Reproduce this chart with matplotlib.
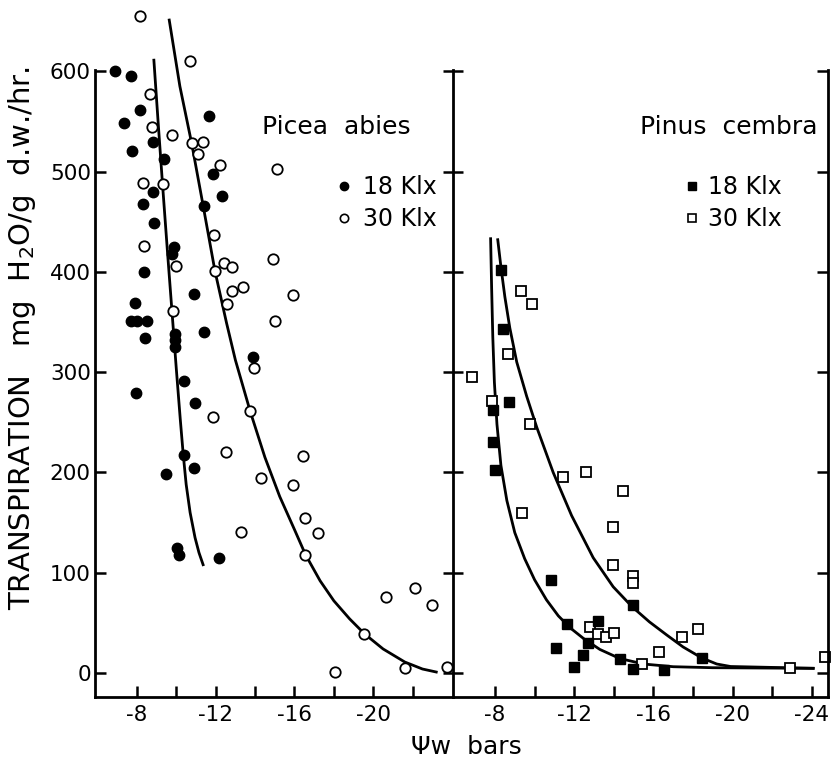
import matplotlib
matplotlib.use("Agg")
import matplotlib.pyplot as plt
from matplotlib.lines import Line2D

plt.rcParams['font.family'] = ['DejaVu Sans']

# ---------------- data (Picea abies, left panel) ----------------
picea18_x = [-6.9, -7.7, -8.15, -7.35, -11.65, -8.8, -7.75, -9.35, -11.85, -8.8,
             -8.3, -12.3, -11.4, -8.85, -9.9, -9.8, -8.35, -10.9, -7.9, -7.7,
             -8.0, -8.5, -8.4, -11.4, -9.95, -9.95, -9.95, -13.9, -7.95, -10.4,
             -10.95, -10.4, -9.5, -10.9, -10.05, -10.15, -12.15]
picea18_y = [600, 595, 561, 548, 555, 529, 520, 512, 498, 480,
             468, 476, 466, 449, 425, 418, 400, 378, 369, 351,
             351, 351, 334, 340, 338, 332, 325, 315, 279, 291,
             269, 217, 198, 204, 125, 118, 115]

picea30_x = [-8.15, -10.7, -8.65, -8.75, -9.8, -10.8, -11.35, -11.1, -12.2, -15.1,
             -8.3, -9.3, -11.9, -8.35, -10.0, -12.4, -12.85, -11.95, -14.9, -15.9,
             -12.85, -13.4, -12.55, -15.0, -9.85, -13.95, -13.75, -11.85, -12.5, -16.45,
             -14.3, -15.95, -16.55, -17.2, -13.3, -16.55, -19.55, -20.65, -22.1, -23.0,
             -18.05, -21.6, -23.75]
picea30_y = [655, 610, 577, 544, 536, 528, 529, 517, 506, 503,
             489, 488, 437, 426, 406, 409, 405, 401, 413, 377,
             381, 385, 368, 351, 361, 304, 261, 255, 220, 216,
             194, 187, 155, 140, 141, 118, 39, 76, 85, 68,
             1, 5, 6]

# fitted curves
picea18_fit_x = [-8.86, -9.08, -9.3, -9.55, -9.8, -10.0, -10.2, -10.35, -10.5, -10.7,
                 -10.95, -11.15, -11.36]
picea18_fit_y = [611, 548, 487, 420, 355, 303, 253, 218, 188, 160,
                 135, 120, 108]

picea30_fit_x = [-9.64, -10.18, -10.78, -11.37, -11.96, -12.55, -13.0, -13.75, -14.5,
                 -15.25, -16.0, -16.56, -17.3, -18.0, -18.8, -19.56, -20.5, -21.6,
                 -22.5, -23.2]
picea30_fit_y = [651, 585, 528, 465, 401, 349, 312, 261, 215,
                 176, 143, 118, 92, 72, 54, 39, 24, 11,
                 4, 1]

# ---------------- data (Pinus cembra, right panel) ----------------
pinus18_x = [-8.3, -8.4, -8.7, -7.9, -7.9, -8.0, -10.85, -11.65, -13.2, -12.7,
             -11.1, -12.45, -12.0, -14.3, -14.95, -16.55, -14.95, -18.45]
pinus18_y = [402, 343, 270, 262, 230, 202, 93, 49, 52, 30,
             25, 18, 6, 14, 4, 3, 68, 15]

pinus30_x = [-9.3, -9.85, -8.65, -6.85, -7.85, -9.75, -11.45, -12.6, -14.45, -9.35,
             -13.95, -13.95, -14.95, -14.95, -12.8, -13.2, -13.6, -14.0, -15.45, -16.3,
             -17.45, -18.25, -22.9, -24.65]
pinus30_y = [381, 368, 318, 295, 271, 248, 195, 200, 181, 160,
             146, 108, 97, 90, 46, 39, 36, 40, 9, 21,
             36, 44, 5, 16]

pinus18_fit_x = [-7.78, -7.83, -7.89, -7.97, -8.1, -8.3, -8.6, -9.0, -9.5, -10.0,
                 -10.6, -11.2, -11.8, -12.5, -13.3, -14.3, -15.5, -17.0, -19.0, -24.06]
pinus18_fit_y = [433, 385, 335, 290, 248, 207, 172, 140, 114, 93,
                 73, 57, 45, 34, 23.5, 14.5, 9, 6.3, 5.3, 4.7]

pinus30_fit_x = [-8.14, -8.3, -8.5, -8.75, -9.1, -9.6, -10.11, -10.94, -11.87, -12.96,
                 -13.97, -14.93, -15.8, -16.67, -17.5, -18.45, -19.2, -19.9, -22.9, -24.08]
pinus30_fit_y = [432, 405, 375, 344, 310, 276, 245, 200, 157, 115,
                 86, 66, 51, 38, 26, 15, 9, 6.5, 5.2, 4.7]

left_xticks = [-8, -10, -12, -14, -16, -18, -20, -22]
left_xticklabels = ['-8', '', '-12', '', '-16', '', '-20', '']
right_xticks = [-8, -10, -12, -14, -16, -18, -20, -22, -24]
right_xticklabels = ['-8', '', '-12', '', '-16', '', '-20', '', '-24']
yticks = [0, 100, 200, 300, 400, 500, 600]
yticklabels = ['0', '100', '200', '300', '400', '500', '600']

W, H = 831, 767
fig = plt.figure(figsize=(W / 100, H / 100), dpi=100)

YLIM = (-23.9, 671)
ax1 = fig.add_axes([95 / W, 70 / H, 358 / W, 697 / H])
ax2 = fig.add_axes([453 / W, 70 / H, 375 / W, 697 / H])
ax1.set_xlim(-5.87, -24.05)
ax2.set_xlim(-5.88, -24.82)
for ax in (ax1, ax2):
    ax.set_ylim(*YLIM)
    ax.patch.set_alpha(0)

LW_SP = 2.0
TICKFS = 15.5

# left panel
ax1.spines['top'].set_visible(False)
ax1.spines['right'].set_visible(False)
ax1.spines['left'].set_bounds(YLIM[0], 601)
ax1.spines['left'].set_linewidth(LW_SP)
ax1.spines['bottom'].set_linewidth(LW_SP)
ax1.set_xticks(left_xticks)
ax1.set_xticklabels(left_xticklabels)
ax1.set_yticks(yticks)
ax1.set_yticklabels(yticklabels)
ax1.tick_params(axis='x', direction='in', length=8, width=1.8, labelsize=TICKFS, pad=6)
ax1.tick_params(axis='y', direction='in', length=8, width=1.8, labelsize=TICKFS, pad=3)

# right panel
ax2.spines['top'].set_visible(False)
ax2.spines['right'].set_visible(False)
ax2.spines['left'].set_bounds(YLIM[0], 601)
ax2.spines['left'].set_linewidth(LW_SP)
ax2.spines['bottom'].set_linewidth(LW_SP)
ax2.set_xticks(right_xticks)
ax2.set_xticklabels(right_xticklabels)
ax2.set_yticks(yticks)
ax2.tick_params(axis='x', direction='in', length=8, width=1.8, labelsize=TICKFS, pad=6)
ax2.tick_params(axis='y', direction='inout', length=14, width=1.8, labelleft=False)

ax3 = ax2.twinx()
ax3.set_ylim(*YLIM)
for s in ('top', 'left', 'bottom'):
    ax3.spines[s].set_visible(False)
ax3.spines['right'].set_bounds(YLIM[0], 601)
ax3.spines['right'].set_linewidth(LW_SP)
ax3.set_yticks(yticks)
ax3.tick_params(axis='y', direction='in', length=8, width=1.8, labelright=False)

# curves
for ax, fx, fy in ((ax1, picea18_fit_x, picea18_fit_y), (ax1, picea30_fit_x, picea30_fit_y),
                   (ax2, pinus18_fit_x, pinus18_fit_y), (ax2, pinus30_fit_x, pinus30_fit_y)):
    ax.plot(fx, fy, color='black', lw=2.0, zorder=2, solid_joinstyle='round')

# points
MS_C = 7.5
MS_S = 7.0
ax1.plot(picea30_x, picea30_y, 'o', ms=MS_C, mfc='white', mec='black', mew=1.3, zorder=3, clip_on=False)
ax1.plot(picea18_x, picea18_y, 'o', ms=MS_C, mfc='black', mec='black', zorder=4, clip_on=False)
ax2.plot(pinus30_x, pinus30_y, 's', ms=MS_S, mfc='white', mec='black', mew=1.3, zorder=3, clip_on=False)
ax2.plot(pinus18_x, pinus18_y, 's', ms=MS_S, mfc='black', mec='black', zorder=4, clip_on=False)

# species labels
LABFS = 18
fig.text(262 / W, 1 - 127 / H, 'Picea  abies', fontsize=LABFS, ha='left', va='center')
fig.text(640 / W, 1 - 127 / H, 'Pinus  cembra', fontsize=LABFS, ha='left', va='center')

# legends
h1 = [Line2D([], [], ls='none', marker='o', ms=6, mfc='black', mec='black'),
      Line2D([], [], ls='none', marker='o', ms=6, mfc='white', mec='black', mew=1.2)]
ax1.legend(h1, ['18 Klx', '30 Klx'], loc='upper left',
           bbox_to_anchor=(332 / W, 1 - 175 / H), bbox_transform=fig.transFigure,
           frameon=False, fontsize=17, handlelength=1.0, handletextpad=0.3,
           borderpad=0, borderaxespad=0, labelspacing=0.35)
h2 = [Line2D([], [], ls='none', marker='s', ms=6, mfc='black', mec='black'),
      Line2D([], [], ls='none', marker='s', ms=6, mfc='white', mec='black', mew=1.2)]
ax2.legend(h2, ['18 Klx', '30 Klx'], loc='upper left',
           bbox_to_anchor=(680 / W, 1 - 175 / H), bbox_transform=fig.transFigure,
           frameon=False, fontsize=17, handlelength=1.0, handletextpad=0.2,
           borderpad=0, borderaxespad=0, labelspacing=0.35)

# axis labels
fig.text(466 / W, 1 - 747 / H, 'Ψw  bars', fontsize=18, ha='center', va='center')
fig.text(22 / W, 1 - 338 / H, 'TRANSPIRATION   mg  H$_2$O/g  d.w./hr.', fontsize=21,
         rotation=90, ha='center', va='center')

fig.savefig('out.png', dpi=100)
